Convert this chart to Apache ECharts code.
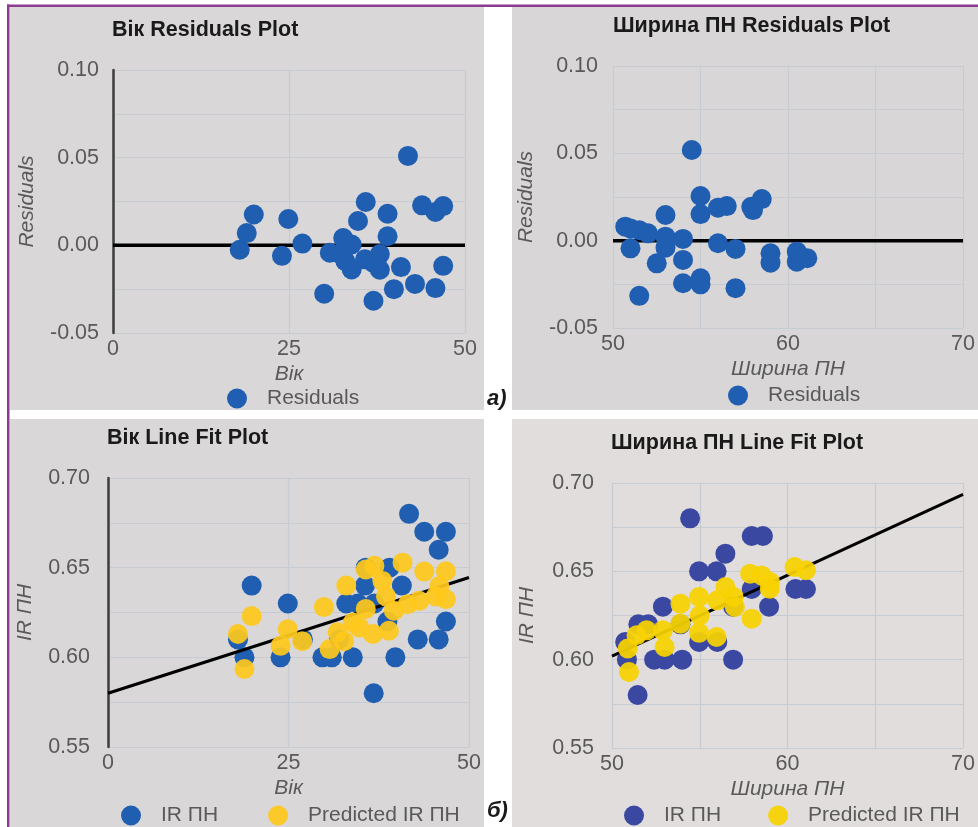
<!DOCTYPE html>
<html>
<head>
<meta charset="utf-8">
<script src="https://cdn.jsdelivr.net/npm/echarts@6/dist/echarts.min.js"></script>
<style>
html,body{margin:0;padding:0;background:#ffffff;}
#chart{width:978px;height:827px;}
</style>
</head>
<body>
<div id="chart"></div>
<script>
// ---- Data ----
// Panel a) left: Вік Residuals Plot  [age, residual]
var ageResiduals = [
  [18.0,-0.0025],[19.0,0.007],[20.0,0.0176],[24.0,-0.006],[24.9,0.015],[26.9,0.001],
  [30.0,-0.0276],[30.8,-0.0042],[32.7,0.0042],[33.9,0.0005],[32.3,-0.005],[33.0,-0.009],
  [33.9,-0.0138],[34.8,0.0139],[35.9,0.0247],[35.8,-0.008],[37.0,-0.010],[37.0,-0.0316],
  [37.9,-0.005],[37.9,-0.0139],[39.0,0.018],[39.0,0.0052],[39.9,-0.025],[40.9,-0.0124],
  [41.9,0.051],[42.9,-0.022],[43.9,0.0228],[45.8,-0.0244],[45.8,0.019],[46.9,0.0224],[46.9,-0.0117]
];
// Panel a) right: Ширина ПН Residuals Plot  [width, residual]
var widthResiduals = [
  [54.5,0.0519],[55.0,0.0256],[55.0,0.0152],[56.0,0.0189],[56.5,0.0198],[57.9,0.0194],
  [58.5,0.0238],[58.0,0.0175],[53.0,0.0147],[50.7,0.008],[51.0,0.007],[51.5,0.006],
  [52.0,0.0042],[51.0,-0.0044],[53.0,0.0023],[53.0,-0.004],[54.0,0.001],[52.5,-0.013],
  [54.0,-0.011],[54.0,-0.0244],[55.0,-0.0215],[55.0,-0.025],[51.5,-0.0316],[56.0,-0.0015],
  [57.0,-0.0047],[57.0,-0.0272],[59.0,-0.0072],[59.0,-0.0126],[60.5,-0.0063],[60.5,-0.012],[61.1,-0.010]
];
// Zero reference lines of the residual plots
var ageZeroLine = [[0,0],[50,0]];
var widthZeroLine = [[50,0],[70,0]];

// Panel б) left: Вік Line Fit Plot
var ageIR = [
  [41.7,0.68],[43.8,0.67],[46.8,0.67],[45.8,0.66],[35.7,0.65],[39.0,0.65],[19.9,0.64],
  [40.7,0.64],[35.6,0.64],[24.9,0.63],[33.0,0.63],[34.6,0.63],[36.9,0.63],[46.8,0.62],
  [38.7,0.62],[18.0,0.61],[27.0,0.61],[32.0,0.61],[42.9,0.61],[45.8,0.61],[18.9,0.60],
  [23.9,0.60],[29.7,0.60],[31.0,0.60],[33.9,0.60],[39.8,0.60],[36.8,0.58]
];
var agePredicted = [
  [18.0,0.613],[18.9,0.5935],[19.9,0.623],[23.9,0.6064],[24.9,0.6157],[26.9,0.609],
  [29.9,0.628],[30.7,0.6046],[31.8,0.614],[32.7,0.609],[33.0,0.640],[33.9,0.6194],
  [34.8,0.6167],[35.7,0.627],[35.7,0.649],[36.9,0.651],[38.0,0.6426],[38.5,0.634],
  [36.7,0.613],[38.9,0.6148],[39.6,0.626],[40.8,0.6528],[41.5,0.6296],[43.1,0.6315],
  [43.8,0.6478],[46.8,0.648],[45.9,0.6398],[46.8,0.6324],[45.4,0.634]
];
var ageFitLine = [[0,0.580],[50,0.6445]];

// Panel б) right: Ширина ПН Line Fit Plot
var widthIR = [
  [54.45,0.68],[57.96,0.67],[58.6,0.67],[56.46,0.66],[54.96,0.65],[55.96,0.65],[57.96,0.64],
  [60.45,0.64],[61.05,0.64],[52.9,0.63],[58.95,0.63],[56.9,0.63],[51.5,0.62],[52.06,0.62],
  [53.9,0.62],[50.75,0.61],[54.96,0.61],[56.0,0.61],[52.4,0.60],[53.0,0.60],[54.0,0.60],
  [50.85,0.60],[56.9,0.60],[51.46,0.58]
];
var widthPredicted = [
  [50.97,0.593],[50.9,0.6063],[51.4,0.6138],[51.97,0.6166],[52.9,0.6166],[53.0,0.6072],
  [53.9,0.6317],[53.9,0.6204],[54.96,0.6355],[54.96,0.6152],[55.0,0.625],[55.96,0.6128],
  [56.0,0.6336],[56.46,0.6411],[57.0,0.6298],[56.93,0.6355],[57.96,0.6232],[57.87,0.6487],
  [58.52,0.6477],[58.99,0.6402],[59.0,0.644],[60.4,0.6524],[61.05,0.6506]
];
var widthFitLine = [[50,0.602],[70,0.6935]];

// Titles, axis names, legend labels
var panelTitles = ['Вік Residuals Plot','Ширина ПН Residuals Plot','Вік Line Fit Plot','Ширина ПН Line Fit Plot'];
var xNames = ['Вік','Ширина ПН','Вік','Ширина ПН'];
var yNames = ['Residuals','Residuals','IR ПН','IR ПН'];
var seriesNames = ['Residuals','IR ПН','Predicted IR ПН'];
var panelLabels = ['а)','б)'];

// ---- Styles ----
var FONT = '"Liberation Sans", Arial, sans-serif';
var BLUE = '#1f5eb0', BLUE2 = '#3a48a2', YELLOW = '#fec81c', YELLOW2 = '#f8d200';
var LABEL = '#595959', GRID = '#c6ccd2';
var FS = 21.5;

var chart = echarts.init(document.getElementById('chart'), null, {renderer:'canvas'});

var grids = [
  {left:113, top:70, width:352, height:263},
  {left:613, top:66, width:352, height:262},
  {left:108, top:478, width:361, height:269},
  {left:612, top:483, width:355, height:265}
];
var xRanges = [[0,50,25],[50,70,10],[0,50,25],[50,70,10]];
var yRanges = [[-0.05,0.10,0.05],[-0.05,0.10,0.05],[0.55,0.70,0.05],[0.55,0.70,0.05]];
var yLabelMargin = [14,15,18,18];
var yNameGap = [75,76,72,74];
var yAxisLineShow = [true,false,true,false];

var xAxes = [], yAxes = [];
for (var i=0;i<4;i++){
  xAxes.push({
    type:'value', gridIndex:i, min:xRanges[i][0], max:xRanges[i][1], interval:xRanges[i][2],
    name:xNames[i], nameLocation:'middle', nameGap:31,
    nameTextStyle:{color:LABEL, fontSize:21, fontStyle:'italic', fontFamily:FONT},
    axisLine:{show:false}, axisTick:{show:false},
    axisLabel:{color:LABEL, fontSize:FS, fontFamily:FONT, margin:5},
    splitLine:{show:true, lineStyle:{color:GRID, width:1.2}},
    minorTick:{show:false, splitNumber:2},
    minorSplitLine:{show:xRanges[i][2]===10, lineStyle:{color:GRID, width:1.2}}
  });
  yAxes.push({
    type:'value', gridIndex:i, min:yRanges[i][0], max:yRanges[i][1], interval:yRanges[i][2],
    name:yNames[i], nameLocation:'middle', nameGap:yNameGap[i], nameRotate:90,
    nameTextStyle:{color:LABEL, fontSize:21, fontStyle:'italic', fontFamily:FONT},
    axisLine:{show:yAxisLineShow[i], onZero:false, lineStyle:{color:'#3d3d3d', width:2.5}},
    axisTick:{show:false},
    axisLabel:{color:LABEL, fontSize:FS, fontFamily:FONT, margin:yLabelMargin[i],
      formatter:function(v){ return v.toFixed(2); }},
    splitLine:{show:true, lineStyle:{color:GRID, width:1.2}},
    minorTick:{show:false, splitNumber:2},
    minorSplitLine:{show:true, lineStyle:{color:GRID, width:1.2}}
  });
}

var titlePos = [[112,19],[613,15],[107,427],[611,432]];
var titles = panelTitles.map(function(t,i){
  return {text:t, left:titlePos[i][0], top:titlePos[i][1], padding:0,
    textStyle:{fontSize:21.5, fontWeight:'bold', color:'#1a1a1a', fontFamily:FONT}};
});

function dot(name, data, gi, color, z, opacity){
  return {type:'scatter', name:name, xAxisIndex:gi, yAxisIndex:gi, data:data,
    symbol:'circle', symbolSize:20, z:z,
    itemStyle:{color:color, opacity:opacity||1}, emphasis:{disabled:true}};
}
function refLine(name, data, gi, width, z){
  return {type:'line', name:name, xAxisIndex:gi, yAxisIndex:gi, data:data,
    symbol:'none', silent:true, z:z, lineStyle:{color:'#000000', width:width},
    emphasis:{disabled:true}};
}

var legendText = {color:LABEL, fontSize:21, fontFamily:FONT, padding:[0,0,0,15]};
var legends = [
  {left:227, top:388, padding:0, itemWidth:20, itemHeight:20, selectedMode:false, icon:'circle',
   textStyle:legendText, data:[{name:seriesNames[0], itemStyle:{color:BLUE}}]},
  {left:728, top:385, padding:0, itemWidth:20, itemHeight:20, selectedMode:false, icon:'circle',
   textStyle:legendText, data:[{name:seriesNames[0], itemStyle:{color:BLUE}}]},
  {left:121, top:805, padding:0, itemWidth:20, itemHeight:20, itemGap:50, selectedMode:false, icon:'circle',
   textStyle:legendText, data:[{name:seriesNames[1], itemStyle:{color:BLUE}},{name:seriesNames[2], itemStyle:{color:YELLOW}}]},
  {left:624, top:805, padding:0, itemWidth:20, itemHeight:20, itemGap:47, selectedMode:false, icon:'circle',
   textStyle:legendText, data:[{name:seriesNames[1], itemStyle:{color:BLUE2}},{name:seriesNames[2], itemStyle:{color:YELLOW2}}]}
];

var graphics = [
  {type:'rect', z:-10, shape:{x:10,y:7,width:474,height:403}, style:{fill:'#d9d7d8'}},
  {type:'rect', z:-10, shape:{x:512,y:7,width:466,height:403}, style:{fill:'#d8d6d7'}},
  {type:'rect', z:-10, shape:{x:10,y:419,width:474,height:408}, style:{fill:'#d9d7d8'}},
  {type:'rect', z:-10, shape:{x:512,y:419,width:466,height:408}, style:{fill:'#e1dddc'}},
  {type:'rect', z:-5, shape:{x:7,y:4.5,width:971,height:2.5}, style:{fill:'#8d3a90'}},
  {type:'rect', z:-5, shape:{x:7,y:4.5,width:2.5,height:823}, style:{fill:'#8d3a90'}},
  {type:'text', z:100, x:487, y:388, style:{text:panelLabels[0], fontSize:22, fontWeight:'bold', fontStyle:'italic', fontFamily:FONT, fill:'#1a1a1a'}},
  {type:'text', z:100, x:487, y:800, style:{text:panelLabels[1], fontSize:22, fontWeight:'bold', fontStyle:'italic', fontFamily:FONT, fill:'#1a1a1a'}}
];

chart.setOption({
  animation:false,
  backgroundColor:'#ffffff',
  title:titles,
  legend:legends,
  grid:grids,
  xAxis:xAxes,
  yAxis:yAxes,
  graphic:graphics,
  series:[
    refLine('zero0', ageZeroLine, 0, 3.5, 1),
    dot(seriesNames[0], ageResiduals, 0, BLUE, 2),
    refLine('zero1', widthZeroLine, 1, 3.5, 1),
    dot(seriesNames[0], widthResiduals, 1, BLUE, 2),
    dot(seriesNames[1], ageIR, 2, BLUE, 2),
    refLine('Linear (Predicted IR ПН) вік', ageFitLine, 2, 3, 3),
    dot(seriesNames[2], agePredicted, 2, YELLOW, 4, 0.93),
    dot(seriesNames[1], widthIR, 3, BLUE2, 2),
    refLine('Linear (Predicted IR ПН) ширина', widthFitLine, 3, 3, 3),
    dot(seriesNames[2], widthPredicted, 3, YELLOW2, 4, 0.93)
  ]
});
</script>
</body>
</html>
